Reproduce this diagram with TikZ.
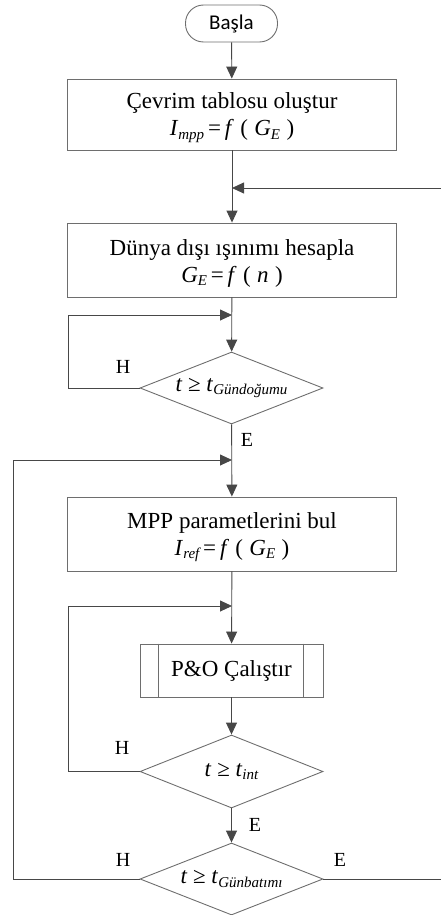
\documentclass[tikz,border=0pt]{standalone}
\usepackage{fontspec}
\setmainfont{Liberation Serif}
\newfontfamily\termfont{Carlito}
\usetikzlibrary{arrows.meta,shapes.geometric}

% lowered italic index used in the formulas
\newcommand{\lowidx}[1]{\raisebox{-0.35ex}{\fontsize{15}{15}\selectfont\itshape #1}}

\definecolor{linegray}{HTML}{474747}
\definecolor{boxgray}{HTML}{6E6E6E}

\tikzset{
  x=1pt, y=-1pt,
  every node/.style={font=\fontsize{23}{28}\selectfont},
  flow/.style={draw=linegray, line width=0.9pt},
  arr/.style={flow, -{Triangle[length=12pt,width=11pt,fill=linegray]}},
  terminal/.style={draw=boxgray, line width=0.9pt, rectangle, rounded corners=18pt,
    minimum width=92pt, minimum height=37pt, inner sep=0pt,
    font=\termfont\fontsize{21}{24}\selectfont},
  process/.style={draw=boxgray, line width=0.9pt, rectangle,
    minimum width=329pt, minimum height=74pt, inner sep=0pt},
  ptext/.style={align=center, inner sep=0pt},
  subproc/.style={draw=boxgray, line width=0.9pt, rectangle,
    minimum width=183pt, minimum height=53pt, inner sep=0pt},
  decision/.style={draw=boxgray, line width=0.9pt, diamond, aspect=2.54,
    minimum width=183pt, minimum height=72pt, inner sep=0pt},
  tag/.style={font=\fontsize{20}{22}\selectfont, inner sep=0pt}
}

\begin{document}
\begin{tikzpicture}
\useasboundingbox (0,0) rectangle (440,915);

% start terminal
\node[terminal] (start) at (231.5,23.5) {Başla};

% processing boxes, their two-line texts set a little below centre
\node[process, minimum height=71pt] (tbl) at (232,114.5) {};
\node[ptext] (tbltxt) at ([yshift=-3pt]tbl.center)
  {Çevrim tablosu oluştur\\[-1pt]
   \textit{I}\lowidx{mpp}\,=\,\textit{f}\;(\;\textit{G}\lowidx{E}\;)};
\node[process] (ext) at (232,260) {};
\node[ptext] (exttxt) at ([yshift=-3pt]ext.center)
  {Dünya dışı ışınımı hesapla\\[-1pt]
   \textit{G}\lowidx{E}\,=\,\textit{f}\;(\;\textit{n}\;)};
\node[decision] (rise) at (231.5,388)
  {\raisebox{-2pt}{\textit{t} ≥ \textit{t}\lowidx{Gündoğumu}}};
\node[process] (mpp) at (232,534) {};
\node[ptext] (mpptxt) at ([yshift=-3pt]mpp.center)
  {MPP parametlerini bul\\[-1pt]
   \textit{I}\lowidx{ref}\,=\,\textit{f}\;(\;\textit{G}\lowidx{E}\;)};
\node[subproc] (po) at (231.5,670.5) {P\&O Çalıştır};
\draw[draw=boxgray, line width=0.9pt]
  ([xshift=19pt]po.north west) -- ([xshift=19pt]po.south west)
  ([xshift=-20pt]po.north east) -- ([xshift=-20pt]po.south east);
\node[decision, minimum height=73pt] (tint) at (231.5,771.5)
  {\textit{t} ≥ \textit{t}\lowidx{int}};
\node[decision] (set) at (231.5,879)
  {\raisebox{-2pt}{\textit{t} ≥ \textit{t}\lowidx{Günbatımı}}};

% junction points on the main line
\coordinate (jday) at (232,188);
\coordinate (jrise) at (232,315);
\coordinate (jsun) at (232,460);
\coordinate (jint) at (232,606);

% main line
\draw[arr] (start) -- (tbl);
\draw[arr] (tbl) -- (ext);
\draw[arr] (ext) -- (rise);
\draw[arr] (rise) -- (mpp);
\draw[arr] (mpp) -- (po);
\draw[arr] (po) -- (tint);
\draw[arr] (tint) -- (set);

% loops
\draw[arr] (rise.west) -- (68,388) |- (jrise);
\draw[arr] (tint.west) -- (68,771.5) |- (jint);
\draw[arr] (set.west) -- (13,879) |- (jsun);
\draw[arr] (set.east) -- (441,879) |- (jday);

% branch labels
\node[tag] (hrise) at (123,367) {H};
\node[tag] (erise) at (247,440) {E};
\node[tag] (hint) at (122,748) {H};
\node[tag] (eint) at (255,825) {E};
\node[tag] (hset) at (123,860) {H};
\node[tag] (eset) at (340,860) {E};
\end{tikzpicture}
\end{document}
